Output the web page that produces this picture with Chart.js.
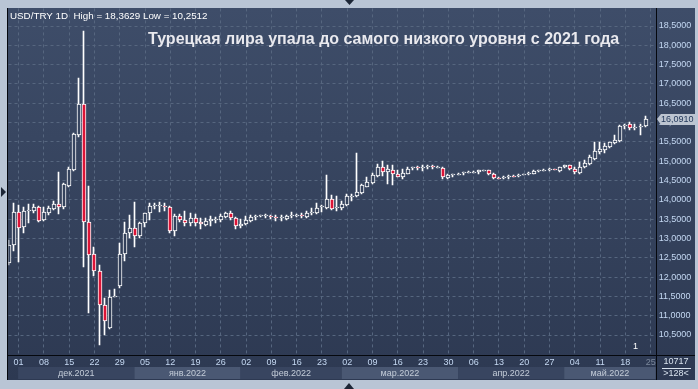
<!DOCTYPE html>
<html><head><meta charset="utf-8">
<script src="https://cdn.jsdelivr.net/npm/chart.js@4.4.1/dist/chart.umd.min.js"></script>
<style>html,body{margin:0;padding:0;background:#b9c5d5;overflow:hidden}canvas{display:block}</style>
</head><body>
<canvas id="c" width="698" height="389" style="width:698px;height:389px"></canvas>
<script>
// ---- data ----
const firstDay = '2021-11-29';   // first trading day on the axis (Mon-Fri calendar)
const lastDay  = '2022-05-25';   // last day on the axis
const openV  = [12.36,12.83,13.69,13.30,13.70,13.71,13.81,13.47,13.65,13.77,13.89,13.82,14.37,14.77,15.67,16.49,13.43,12.59,12.16,11.29,10.67,11.50,11.77,12.61,13.13,13.26,13.07,13.40,13.65,13.86,13.85,13.85,13.82,13.20,13.58,13.49,13.40,13.52,13.43,13.35,13.45,13.50,13.47,13.56,13.65,13.52,13.31,13.37,13.46,13.56,13.58,13.60,13.58,13.55,13.54,13.50,13.58,13.60,13.61,13.56,13.68,13.66,13.81,13.78,14.03,13.79,13.80,13.86,14.08,14.09,14.18,14.33,14.44,14.61,14.84,14.73,14.78,14.68,14.60,14.68,14.82,14.84,14.83,14.84,14.87,14.85,14.82,14.57,14.63,14.66,14.69,14.71,14.72,14.73,14.76,14.77,14.66,14.57,14.56,14.59,14.62,14.61,14.65,14.66,14.68,14.74,14.76,14.78,14.79,14.75,14.85,14.89,14.80,14.70,14.86,14.94,15.06,15.23,15.28,15.37,15.46,15.52,15.93,15.96,15.88,15.89,15.90];
const highV  = [12.95,13.91,13.86,13.82,13.88,13.88,13.84,13.81,13.85,13.96,14.71,14.44,14.84,15.73,17.15,18.36,14.35,12.78,12.31,11.45,11.66,11.68,12.87,13.42,13.62,13.94,13.43,13.66,13.91,13.92,13.95,13.91,13.84,13.63,13.63,13.71,13.65,13.63,13.52,13.52,13.58,13.56,13.63,13.69,13.71,13.56,13.50,13.58,13.62,13.61,13.62,13.64,13.61,13.60,13.60,13.61,13.68,13.63,13.66,13.71,13.78,13.91,13.86,14.64,14.12,14.09,13.97,14.16,14.14,15.22,14.42,14.58,14.70,14.94,15.00,14.90,14.90,14.77,14.79,14.84,14.85,14.87,14.89,14.90,14.89,14.88,14.85,14.66,14.68,14.70,14.73,14.74,14.75,14.77,14.78,14.78,14.70,14.59,14.61,14.64,14.63,14.67,14.67,14.72,14.76,14.77,14.80,14.82,14.80,14.86,14.91,14.91,14.85,14.97,15.03,15.15,15.50,15.50,15.46,15.51,15.67,15.94,15.97,16.02,15.96,15.96,16.16];
const lowV   = [12.30,12.68,12.40,13.15,13.39,13.65,13.42,13.45,13.60,13.73,13.63,13.75,14.33,14.74,15.63,12.27,11.08,12.03,10.25,10.50,10.66,11.48,11.73,12.42,13.00,12.78,13.00,13.30,13.49,13.75,13.69,13.71,13.15,13.06,13.43,13.33,13.31,13.33,13.24,13.33,13.32,13.39,13.43,13.52,13.47,13.24,13.27,13.34,13.42,13.48,13.55,13.52,13.50,13.44,13.46,13.47,13.54,13.55,13.53,13.52,13.61,13.63,13.69,13.75,13.73,13.71,13.73,13.83,13.97,14.07,14.16,14.32,14.42,14.59,14.61,14.42,14.38,14.58,14.55,14.66,14.77,14.78,14.75,14.81,14.81,14.83,14.53,14.53,14.59,14.64,14.64,14.69,14.70,14.68,14.74,14.64,14.53,14.53,14.54,14.55,14.58,14.60,14.63,14.64,14.66,14.72,14.75,14.75,14.76,14.73,14.82,14.78,14.68,14.68,14.82,14.91,15.04,15.18,15.22,15.35,15.44,15.50,15.84,15.82,15.82,15.67,15.89];
const closeV = [12.83,13.68,13.28,13.71,13.73,13.81,13.46,13.68,13.79,13.89,13.82,14.40,14.80,15.71,16.49,13.43,12.56,12.16,11.29,10.86,11.49,11.52,12.61,13.13,13.26,13.07,13.41,13.65,13.84,13.87,13.86,13.84,13.20,13.58,13.49,13.40,13.52,13.40,13.37,13.45,13.51,13.51,13.58,13.65,13.52,13.31,13.37,13.47,13.55,13.58,13.60,13.61,13.56,13.54,13.55,13.58,13.60,13.61,13.60,13.66,13.69,13.80,13.83,14.03,13.76,13.81,13.89,14.09,14.10,14.21,14.38,14.46,14.64,14.84,14.72,14.79,14.68,14.60,14.70,14.81,14.84,14.83,14.86,14.87,14.85,14.86,14.58,14.63,14.66,14.68,14.71,14.72,14.73,14.76,14.77,14.66,14.57,14.56,14.59,14.62,14.61,14.65,14.66,14.70,14.74,14.76,14.78,14.79,14.78,14.85,14.90,14.80,14.71,14.85,14.96,15.10,15.27,15.31,15.39,15.49,15.54,15.90,15.94,15.87,15.89,15.92,16.09];
const yTickValues = [10.5,11,11.5,12,12.5,13,13.5,14,14.5,15,15.5,16,16.5,17,17.5,18,18.5];
const lastPrice = 16.0910;
const headerText = 'USD/TRY 1D  High = 18,3629 Low = 10,2512';
const titleText = 'Турецкая лира упала до самого низкого уровня с 2021 года';
const monthNames = ['янв','фев','мар','апр','май','июн','июл','авг','сен','окт','ноя','дек'];
const barCountText = ['10717', '>128<'];

// ---- trading-day categories ----
const labels = [];
(function(){
  const d = new Date(firstDay + 'T00:00:00Z'), end = new Date(lastDay + 'T00:00:00Z');
  while (d <= end) {
    const wd = d.getUTCDay();
    if (wd !== 0 && wd !== 6) labels.push(d.toISOString().slice(0,10));
    d.setUTCDate(d.getUTCDate() + 1);
  }
  labels.push(''); // right padding slot
})();
const isWed = s => s && new Date(s + 'T00:00:00Z').getUTCDay() === 3;

const wickData = lowV.map((l,i) => [l, highV[i]]);
const bodyData = openV.map((o,i) => [o, closeV[i]]);

const PANEL = {l:8, t:8, r:695, b:380};
const TOP_C = [62,77,105], BOT_C = [45,57,82];
function bgAt(y){
  const f = Math.min(1, Math.max(0, (y - PANEL.t) / (PANEL.b - PANEL.t)));
  const c = TOP_C.map((v,k) => Math.round(v + (BOT_C[k]-v)*f));
  return 'rgb(' + c.join(',') + ')';
}
const RED = '#dc1437';
const GRID = '#56667f';
const AXIS_TXT = '#c4d8f2';
const SMALL = {family:'Liberation Sans', size:9};

const bgPlugin = {
  id:'bg',
  beforeDraw(chart){
    const c = chart.ctx;
    c.save();
    c.fillStyle = '#b9c5d5';
    c.fillRect(0,0,chart.width,chart.height);
    const g = c.createLinearGradient(0,PANEL.t,0,PANEL.b);
    g.addColorStop(0,'rgb('+TOP_C.join(',')+')');
    g.addColorStop(1,'rgb('+BOT_C.join(',')+')');
    c.fillStyle = g;
    c.fillRect(PANEL.l,PANEL.t,PANEL.r-PANEL.l,PANEL.b-PANEL.t);
    // month bands on the lower axis row
    const xs = chart.scales.x, area = chart.chartArea;
    const starts = [];
    labels.forEach((s,i) => { if(!s) return; const m = s.slice(0,7); if(!starts.length || starts[starts.length-1].m !== m) starts.push({m, i}); });
    starts.forEach((st,k) => {
      const x0 = Math.max(area.left, xs.getPixelForValue(st.i) - 0.5);
      const x1 = k+1 < starts.length ? xs.getPixelForValue(starts[k+1].i) - 0.5 : area.right;
      if (x1 - x0 < 40) return;
      const mo = parseInt(st.m.slice(5,7),10);
      c.fillStyle = (mo % 2 === 1) ? '#4a5873' : '#384560';
      c.fillRect(x0, 367, x1-x0, 12);
      c.fillStyle = '#c3ccd8';
      c.font = '9px "Liberation Sans"';
      c.textAlign = 'center'; c.textBaseline = 'middle';
      c.fillText(monthNames[mo-1] + '.' + st.m.slice(0,4), (x0+x1)/2, 373.5);
    });
    c.restore();
  }
};

const snapPlugin = {
  id:'snap',
  beforeDatasetsDraw(chart){
    const w = chart.getDatasetMeta(0).data, b = chart.getDatasetMeta(1).data;
    b.forEach(el => {
      if (!el) return;
      el.x = Math.round(el.x);
      el.y = Math.round(el.y); el.base = Math.round(el.base);
      if (Math.abs(el.y - el.base) < 1) el.base = el.y + 1;
      el.height = el.base - el.y;
    });
    w.forEach(el => {
      if (!el) return;
      el.x = Math.round(el.x) - 0.5;
      el.y = Math.round(el.y); el.base = Math.round(el.base);
      el.height = el.base - el.y;
    });
  }
};

const overlayPlugin = {
  id:'overlay',
  afterDraw(chart){
    const c = chart.ctx, area = chart.chartArea, ys = chart.scales.y;
    c.save();
    // frame lines
    c.fillStyle = '#05080e';
    c.fillRect(7, PANEL.t, 1, PANEL.b - PANEL.t);
    c.fillRect(Math.round(area.right), PANEL.t, 1, PANEL.b - PANEL.t);
    c.fillRect(PANEL.l, Math.round(area.bottom), PANEL.r - PANEL.l, 1);
    // price tag
    const py = Math.round(ys.getPixelForValue(lastPrice));
    c.fillStyle = '#bcc4d0';
    c.beginPath();
    c.moveTo(657, py); c.lineTo(661, py-5); c.lineTo(695, py-5); c.lineTo(695, py+6); c.lineTo(661, py+6); c.closePath();
    c.fill();
    c.fillStyle = '#1f3558';
    c.font = '9px "Liberation Sans"'; c.textAlign = 'left'; c.textBaseline = 'middle';
    c.fillText(lastPrice.toFixed(4).replace('.', ','), 661, py + 0.5);
    // bar count box
    c.fillStyle = '#d8e2ee';
    c.textAlign = 'center';
    c.fillText(barCountText[0], 676, 362);
    c.fillRect(662, 368, 29, 1);
    c.fillText(barCountText[1], 676, 374);
    // small marker
    c.fillStyle = '#ffffff'; c.textAlign = 'left';
    c.fillText('1', 633, 347);
    // header and title
    c.fillStyle = '#ffffff';
    c.font = '9.8px "Liberation Sans"'; c.textBaseline = 'alphabetic';
    c.fillText(headerText, 10, 18.5);
    c.fillStyle = '#e9e9ee';
    c.font = 'bold 16px "Liberation Sans"';
    c.fillText(titleText, 148, 43.5);
    // scroll triangles
    c.fillStyle = '#1c2636';
    c.beginPath(); c.moveTo(345,0); c.lineTo(354,0); c.lineTo(349.5,5); c.closePath(); c.fill();
    c.beginPath(); c.moveTo(1,187); c.lineTo(6,192); c.lineTo(1,197); c.closePath(); c.fill();
    c.beginPath(); c.moveTo(344,389); c.lineTo(354,389); c.lineTo(349,383); c.closePath(); c.fill();
    c.restore();
  }
};

new Chart(document.getElementById('c'), {
  type:'bar',
  data:{ labels, datasets:[
    { data: wickData, backgroundColor:'#ffffff', borderWidth:0, barThickness:1, grouped:false, order:2, clip:0 },
    { data: bodyData, borderColor:'#ffffff', borderWidth:1, borderSkipped:false, barThickness:4, grouped:false, order:1, clip:0,
      backgroundColor: (ctx) => {
        const d = ctx.raw; if (!d) return 'rgba(0,0,0,0)';
        if (d[1] < d[0]) return RED;
        const ys = ctx.chart.scales.y;
        return ys ? bgAt(ys.getPixelForValue((d[0]+d[1])/2)) : bgAt(200);
      } }
  ]},
  options:{
    responsive:false, animation:false, events:[],
    layout:{ padding:{ left:8.5, right:3, top:8, bottom:9 } },
    plugins:{ legend:{display:false}, tooltip:{enabled:false}, title:{display:false} },
    scales:{
      x:{
        type:'category', offset:false,
        grid:{ color:GRID, lineWidth:1, drawTicks:false, offset:false },
        border:{ display:false, dash:[3,3] },
        ticks:{ autoSkip:false, maxRotation:0, minRotation:0, padding:2, font:SMALL,
          color:(c) => (c.tick && labels[c.tick.value] === lastDay) ? '#7c889c' : AXIS_TXT,
          callback:(v) => labels[v] ? labels[v].slice(8,10) : '' },
        afterBuildTicks:(s) => { s.ticks = s.ticks.filter(t => isWed(labels[t.value])); },
        afterFit:(s) => { s.height = 25; }
      },
      y:{
        position:'right', min:9.9826, max:18.956,
        grid:{ color:GRID, lineWidth:1, drawTicks:false },
        border:{ display:false, dash:[3,3] },
        ticks:{ padding:3, font:SMALL, color:AXIS_TXT, callback:(v) => Number(v).toFixed(4).replace('.', ',') },
        afterBuildTicks:(s) => { s.ticks = yTickValues.map(v => ({value:v})); },
        afterFit:(s) => { s.width = 39.3; }
      }
    }
  },
  plugins:[bgPlugin, snapPlugin, overlayPlugin]
});
</script>
</body></html>
